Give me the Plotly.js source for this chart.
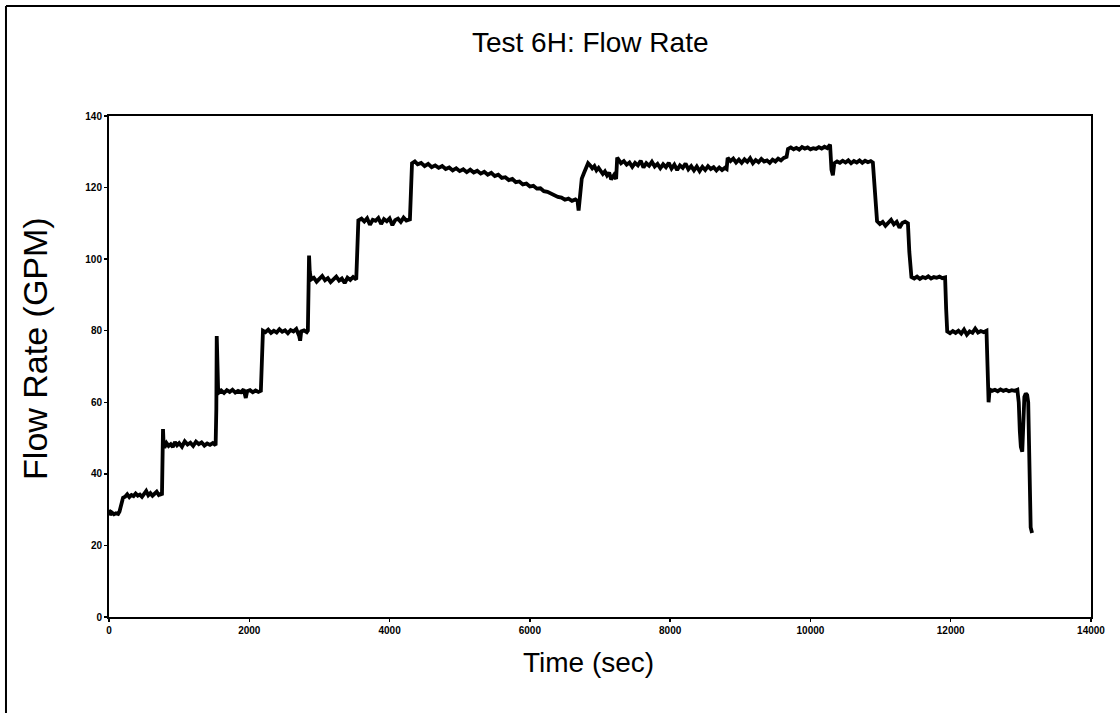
<!DOCTYPE html>
<html>
<head>
<meta charset="utf-8">
<script src="https://cdn.plot.ly/plotly-3.0.1.min.js"></script>
<style>
  html, body { margin: 0; padding: 0; background: #fff; }
  #chart { width: 1120px; height: 713px; }
</style>
</head>
<body>
<div id="chart"></div>
<script>
// Time (sec) and flow rate (GPM)
const timeSec = [
  0, 15, 40, 70, 100, 130, 150, 175, 200,
  230, 260, 290, 320, 350, 380, 410, 440, 470, 500, 530, 560, 590, 620, 650, 680, 710, 740, 755,
  765, 770, 778, 790, 820, 850, 880, 910, 940, 970, 1000, 1040, 1080, 1120, 1160, 1200, 1240, 1280, 1320, 1360, 1400, 1440, 1480, 1520,
  1530, 1536, 1545, 1555, 1570, 1600, 1640, 1680, 1720, 1760, 1800, 1840, 1880, 1920, 1950, 1970, 2010, 2050, 2090, 2130, 2165,
  2180, 2195, 2230, 2270, 2310, 2350, 2390, 2430, 2470, 2510, 2550, 2590, 2630, 2670, 2710, 2725, 2740, 2780, 2820, 2835,
  2845, 2852, 2862, 2880, 2920, 2960, 3000, 3040, 3080, 3120, 3160, 3200, 3240, 3280, 3320, 3360, 3400, 3440, 3480, 3525,
  3540, 3555, 3600, 3640, 3680, 3720, 3760, 3800, 3840, 3880, 3920, 3960, 4000, 4040, 4080, 4120, 4160, 4200, 4240, 4290,
  4305, 4320, 4360, 4400, 4450, 4500, 4550, 4600, 4650, 4700, 4750, 4800, 4850, 4900, 4950, 5000, 5050, 5100, 5150, 5200,
  5250, 5300, 5350, 5400, 5450, 5500, 5550, 5600, 5650, 5700, 5750, 5800, 5850, 5900, 5950, 6000, 6050, 6100, 6150, 6200,
  6250, 6300, 6350, 6400, 6450, 6500, 6550, 6600, 6650, 6680, 6695,
  6710, 6740, 6770, 6800, 6830, 6860, 6890, 6920, 6950, 6980, 7010, 7040, 7070, 7100, 7130, 7160, 7200, 7230, 7245,
  7270, 7300, 7340, 7380, 7420, 7460, 7500, 7540, 7580, 7620, 7660, 7700, 7740, 7780, 7820, 7860, 7900, 7940, 7980, 8020,
  8060, 8100, 8140, 8180, 8220, 8260, 8300, 8340, 8380, 8420, 8460, 8500, 8540, 8580, 8620, 8660, 8700, 8740, 8780, 8805,
  8820, 8860, 8900, 8940, 8980, 9020, 9060, 9100, 9140, 9180, 9220, 9260, 9300, 9340, 9380, 9420, 9460, 9500, 9540, 9580, 9620, 9660,
  9680, 9720, 9760, 9800, 9840, 9880, 9920, 9960, 10000, 10040, 10080, 10120, 10160, 10200, 10240, 10280,
  10300, 10320, 10340, 10380, 10420, 10460, 10500, 10540, 10580, 10620, 10660, 10700, 10740, 10780, 10820, 10860, 10890,
  10920, 10950, 10990, 11030, 11070, 11110, 11150, 11190, 11230, 11270, 11310, 11350, 11390,
  11410, 11440, 11480, 11520, 11560, 11600, 11640, 11680, 11720, 11760, 11800, 11840, 11880, 11920,
  11935, 11950, 11990, 12030, 12070, 12110, 12150, 12190, 12230, 12270, 12310, 12350, 12390, 12430, 12470, 12510,
  12525, 12540, 12555, 12590, 12630, 12670, 12710, 12750, 12790, 12830, 12870, 12910, 12950,
  12970, 12985, 13000, 13020, 13035, 13050, 13070, 13090, 13105, 13115, 13125, 13140, 13160
];
const flowGpm = [
  30, 28.5, 29.2, 28.7, 29, 28.8, 29.5, 32, 33.3,
  33.6, 34.3, 33.5, 34.1, 33.8, 34.5, 33.9, 34.2, 33.6, 34.4, 35.2, 34, 34.6, 33.9, 34.3, 35, 34.1, 34.4, 34,
  44, 52.5, 48.5, 47.3, 48.6, 47.8, 48.3, 47.5, 48.9, 48, 48.6, 47.6, 49.1, 48.2, 48.7, 47.8, 49, 48.3, 48.8, 47.9, 48.5, 48.1, 48.6, 48,
  58, 78.5, 70, 64, 62.8, 63.3, 62.6, 63.4, 62.9, 63.5, 62.7, 63.2, 62.8, 63.6, 61.2, 63.1, 63.4, 62.8, 63.3, 62.9, 63.2,
  72, 80, 79.6, 80.3, 79.4, 80, 79.5, 80.4, 79.7, 80.1, 79.3, 80.2, 79.8, 80.5, 78.6, 77.2, 79.8, 80.1, 79.6, 80,
  92, 101, 96.5, 94.3, 94.8, 93.7, 94.5, 95.3, 94.1, 94.7, 93.6, 94.4, 95.1, 94, 94.6, 93.3, 94.8, 94.2, 95, 94.3,
  102, 110.8, 111.3, 110.5, 111.4, 109.6, 111, 110.7, 111.5, 109.8, 111.2, 110.6, 111.4, 109.5, 110.9, 111.3, 110.4, 111.6, 110.8, 111.1,
  119, 126.8, 127.3, 126.5, 126.9, 126, 126.6, 125.7, 126.2, 125.5, 126, 125.2, 125.6, 124.8, 125.4, 124.6, 125.1, 124.3, 125, 124.2,
  124.7, 123.9, 124.4, 123.6, 124.1, 123.2, 123.6, 122.7, 122.9, 122.1, 122.4, 121.5, 121.7, 120.9, 121.1, 120.3, 120.5, 119.7, 119.8, 119,
  118.8, 118.3, 118.1, 117.4, 117.2, 116.6, 116.9, 116.3, 116.7, 116.2, 113.6,
  117, 122.5, 124, 125.3, 126.8, 126.2, 125.4, 126, 124.8, 125.5, 124.6, 123.8, 124.5, 123.4, 124.2, 122.3, 123.5, 122.4, 128.4,
  127.6, 126.8, 127.4, 126.4, 127, 125.8, 126.9, 126.2, 127.5, 125.6, 126.8, 126.1, 127.2, 125.9, 126.6, 125.4, 126.5, 125.7, 126.9, 125.3,
  126.4, 124.9, 126.2, 125.5, 126.7, 125.1, 126, 124.8, 125.9, 124.6, 125.8, 124.9, 126, 125.2, 125.7, 124.8, 125.6, 124.9, 125.5, 125.2,
  128.3, 127.4, 128.1, 127, 127.8, 126.9, 127.9, 127.2, 128.2, 126.8, 127.7, 127.1, 128, 127.3, 127.6, 126.9, 127.8, 127.3, 128.1, 127.6, 128.3, 128.6,
  130.8, 131.2, 130.7, 131.1, 130.6, 131.3, 130.9, 131.2, 130.7, 131, 130.8, 131.3, 130.9, 131.4, 131, 132,
  125, 123.4, 126.8, 127.3, 126.9, 127.5, 127, 127.6, 126.8, 127.4, 127, 127.6, 126.9, 127.5, 127.1, 127.4, 127,
  118, 110.6, 109.8, 110.4, 109.3, 110.2, 111, 109.7, 110.4, 108.8, 110.1, 110.5, 110,
  102, 95, 94.6, 95.1, 94.5, 95, 94.7, 95.2, 94.6, 95, 94.8, 95.1, 94.7, 94.9,
  86, 79.8, 79.3, 79.9, 79.4, 80, 79.2, 80.3, 78.9, 79.8, 79.4, 80.6, 79.5, 79.9, 79.6, 80,
  70, 60, 63.6, 63.2, 63.5, 63.1, 63.6, 63.2, 63.5, 63.1, 63.4, 63.2, 63.5,
  60, 52, 47.5, 46.2, 55, 61.5, 62.5, 62, 60, 45, 30, 25, 23.5
];

const yTicks = [0, 20, 40, 60, 80, 100, 120, 140];
const xTicks = [0, 2000, 4000, 6000, 8000, 10000, 12000, 14000];

const trace = {
  x: timeSec,
  y: flowGpm,
  type: 'scatter',
  mode: 'lines',
  line: { color: '#000', width: 3.8 },
  hoverinfo: 'x+y',
  showlegend: false
};

const FONT = 'Liberation Sans, Arial, sans-serif';
const tickFont = { family: FONT, size: 10, color: '#000', weight: 'bold' };

const layout = {
  width: 1120,
  height: 713,
  paper_bgcolor: '#fff',
  plot_bgcolor: '#fff',
  margin: { l: 109, r: 29, t: 116, b: 96 },
  title: {
    text: 'Test 6H: Flow Rate',
    font: { family: FONT, size: 28, color: '#000' },
    x: 0.527, xanchor: 'center',
    y: 0.941, yanchor: 'middle'
  },
  xaxis: {
    range: [0, 14000],
    tickvals: xTicks,
    ticktext: xTicks.map(String),
    ticks: 'outside', ticklen: 3, tickwidth: 1.5, tickcolor: '#000',
    tickfont: tickFont,
    showgrid: false, zeroline: false,
    showline: true, linecolor: '#000', linewidth: 2, mirror: true
  },
  yaxis: {
    range: [0, 140],
    tickvals: yTicks,
    ticktext: yTicks.map(String),
    ticks: 'outside', ticklen: 3, tickwidth: 1.5, tickcolor: '#000',
    tickfont: tickFont,
    showgrid: false, zeroline: false,
    showline: true, linecolor: '#000', linewidth: 2, mirror: true
  },
  annotations: [
    { text: 'Time (sec)', xref: 'paper', yref: 'paper', x: 0.4878, y: -0.0918,
      xanchor: 'center', yanchor: 'middle', showarrow: false,
      font: { family: FONT, size: 28, color: '#000' } },
    { text: 'Flow Rate (GPM)', xref: 'paper', yref: 'paper', x: -0.0754, y: 0.537,
      xanchor: 'center', yanchor: 'middle', textangle: -90, showarrow: false,
      font: { family: FONT, size: 34, color: '#000' } }
  ],
  shapes: [
    { type: 'line', xref: 'paper', yref: 'paper', x0: -0.1049, x1: 1.03, y0: 1.2196, y1: 1.2196, line: { color: '#000', width: 2 } },
    { type: 'line', xref: 'paper', yref: 'paper', x0: -0.1049, x1: -0.1049, y0: 1.2196, y1: -0.2, line: { color: '#000', width: 2 } }
  ]
};

Plotly.newPlot('chart', [trace], layout, { displayModeBar: false, staticPlot: true });
</script>
</body>
</html>
